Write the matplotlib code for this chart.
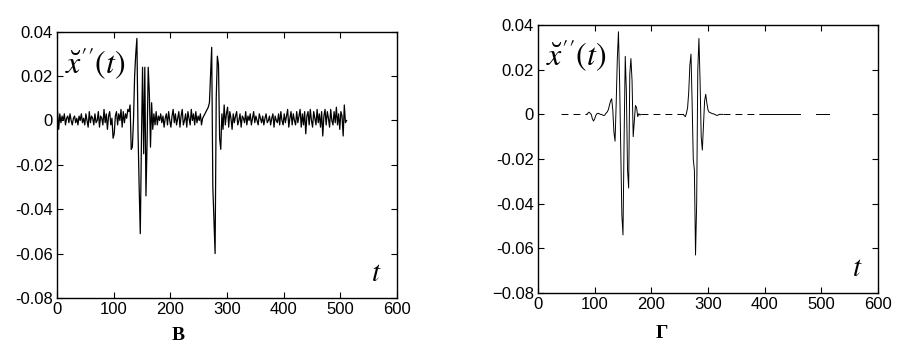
import numpy as np
import matplotlib
matplotlib.use("Agg")
import matplotlib.pyplot as plt

plt.rcParams['font.family'] = ['Liberation Sans', 'DejaVu Sans']
plt.rcParams['mathtext.fontset'] = 'stix'
plt.rcParams['lines.scale_dashes'] = False

# ---------------- data: panel B (noisy signal), t = 1, 3, ..., 511 ----------------
t_left = np.arange(1, 512, 2)
seg_a = [0.004, -0.004, 0.003, -0.001, 0.002, 0.000, 0.003, -0.002, 0.001, 0.002,
         -0.001, 0.003, 0.000, -0.002, 0.001, 0.002, -0.001, 0.001, -0.002, 0.002,
         0.000, 0.003, -0.001, 0.001, -0.002, 0.003, 0.000, -0.003, 0.004, -0.001,
         0.002, 0.001, -0.002, 0.003, -0.001, 0.000, 0.004, -0.003, 0.002, 0.001,
         -0.002, 0.005, -0.001, 0.003, -0.004, 0.002, 0.004, -0.002, 0.001, -0.008,
         -0.006, 0.002, 0.004, -0.002, 0.003, 0.000, 0.005, -0.003, 0.004, -0.001,
         0.003, 0.001, 0.005, 0.004]
burst_1 = [0.007, -0.013, -0.012, 0.000, 0.020, 0.030, 0.037, -0.005, -0.030, -0.051,
           -0.010, 0.024, -0.015, 0.024, -0.034, -0.010, 0.024, 0.012, -0.012, 0.008,
           -0.004, 0.003, -0.002, 0.004]
seg_b = [-0.002, 0.002, 0.000, 0.003, -0.001, 0.002, -0.003, 0.001, 0.003, -0.002,
         0.004, 0.000, -0.003, 0.002, 0.005, -0.001, 0.003, -0.002, 0.001, 0.004,
         -0.003, 0.002, 0.005, -0.002, 0.000, 0.003, -0.003, 0.004, 0.001, -0.002,
         0.005, 0.000, 0.003, -0.002, 0.004, -0.001, 0.002, 0.000, 0.003, -0.002,
         0.001, 0.002, 0.003, 0.004, 0.005, 0.006]
burst_2 = [0.008, 0.020, 0.033, -0.030, -0.045, -0.060, 0.010, 0.029, 0.025, -0.008,
           -0.013, 0.003, -0.004, 0.007, -0.002, 0.003]
seg_c = [0.006, -0.003, 0.004, 0.001, -0.004, 0.003, -0.001, 0.002, 0.004, -0.002,
         0.000, 0.003, -0.003, 0.002, 0.001, -0.001, 0.004, -0.002, 0.002, 0.000,
         0.003, -0.002, 0.001, 0.004, -0.001, 0.002, 0.000, -0.002, 0.003, 0.001,
         -0.001, 0.002, -0.002, 0.001, 0.003, -0.001, 0.000, 0.002, -0.002, 0.001,
         0.003, -0.003, 0.002, 0.000, -0.001, 0.003, -0.002, 0.004, 0.000, -0.002,
         0.003, -0.001, 0.002, 0.005, -0.003, 0.001, 0.004, -0.002, 0.003, 0.000,
         -0.002, 0.004, -0.001, 0.002, 0.005, -0.003, 0.003, -0.002, 0.004, -0.006,
         0.002, 0.004, -0.002, 0.005, 0.000, -0.003, 0.004, 0.001, -0.002, 0.005,
         -0.001, 0.003, -0.003, 0.004, -0.007, 0.002, 0.005, -0.002, 0.004, 0.001,
         -0.003, 0.005, 0.000, -0.002, 0.004, -0.001, 0.006, -0.002, 0.003, -0.004,
         0.004, 0.002, -0.007, 0.007, -0.001, 0.000]
x_left = np.array(seg_a + burst_1 + seg_b + burst_2 + seg_c)

# ---------------- data: panel Г (denoised signal) ----------------
t_r1 = [86, 88, 90, 92, 94, 96, 98, 100, 102, 104, 106, 108, 110, 112, 114, 116, 118,
        120, 122, 124, 126, 128, 130, 132, 134, 136, 138, 140, 142, 144, 146, 148, 150,
        152, 154, 156, 158, 160, 162, 164, 166, 168, 170, 172, 174, 176, 178, 180, 182]
x_r1 = [0.0, 0.0005, 0.001, 0.0005, 0.0, -0.002, -0.003, -0.002, -0.0005, 0.0003,
        0.0005, 0.0003, 0.0, 0.0, -0.0003, -0.0005, -0.0003, 0.0005, 0.001, 0.002,
        0.004, 0.006, 0.007, 0.002, -0.008, -0.012, 0.005, 0.025, 0.037, 0.015,
        -0.015, -0.045, -0.054, -0.010, 0.026, 0.010, -0.025, -0.033, 0.018, 0.025,
        0.015, -0.010, -0.003, 0.004, 0.003, -0.001, 0.0003, -0.0003, 0.0]
t_r2 = [256, 258, 260, 262, 264, 266, 268, 270, 272, 274, 276, 278, 280, 282, 284, 286,
        288, 290, 292, 294, 296, 298, 300, 302, 304, 306, 308, 310, 312, 314, 316, 318,
        320, 322, 324, 326]
x_r2 = [0.0, -0.0005, -0.001, 0.0005, 0.003, 0.010, 0.022, 0.027, 0.005, -0.020,
        -0.025, -0.063, -0.040, 0.020, 0.034, 0.015, -0.010, -0.016, -0.005, 0.006,
        0.009, 0.005, 0.002, 0.001, 0.0008, 0.0005, 0.0003, 0.0002, 0.0, -0.0003,
        -0.0005, -0.0003, 0.0, 0.0, 0.0, 0.0]
# zero baseline pieces (start, end, dashed?)
base_start = [40, 182, 326, 391, 491]
base_end = [86, 256, 391, 462, 514]
base_dashed = [True, True, True, False, False]

xticks = [0, 100, 200, 300, 400, 500, 600]
yticks = [-0.08, -0.06, -0.04, -0.02, 0, 0.02, 0.04]
ylabels_left = ['-0.08', '-0.06', '-0.04', '-0.02', '0', '0.02', '0.04']
ylabels_right = ['\u22120.08', '-0.06', '-0.04', '-0.02', '0', '0.02', '0.04']

fig = plt.figure(figsize=(9.19, 3.53), dpi=100)
axL = fig.add_axes([0.062, 0.156, 0.370, 0.754])
axR = fig.add_axes([0.5854, 0.170, 0.370, 0.759])

for ax, ylab in ((axL, ylabels_left), (axR, ylabels_right)):
    ax.set_xlim(0, 600)
    ax.set_ylim(-0.08, 0.04)
    ax.set_xticks(xticks)
    ax.set_xticklabels([str(v) for v in xticks])
    ax.set_yticks(yticks)
    ax.set_yticklabels(ylab)
    ax.tick_params(direction='in', top=True, right=True, length=4, width=0.8,
                   labelsize=12, pad=3, colors='black')
    for s in ax.spines.values():
        s.set_linewidth(1.0)
        s.set_color('black')

axL.plot(t_left, x_left, color='black', lw=0.9)

axR.plot(t_r1, x_r1, color='black', lw=0.7)
axR.plot(t_r2, x_r2, color='black', lw=0.7)
for s0, s1, d in zip(base_start, base_end, base_dashed):
    if d:
        axR.plot([s0, s1], [0, 0], color='black', lw=0.7, dashes=(5.0, 3.6))
    else:
        axR.plot([s0, s1], [0, 0], color='black', lw=0.7)

lab = r'$\breve{x}^{\prime\prime}(t)$'
axL.text(0.025, 0.88, lab, transform=axL.transAxes, fontsize=23, va='center', ha='left')
axR.text(0.025, 0.885, lab, transform=axR.transAxes, fontsize=23, va='center', ha='left')
axL.text(0.94, 0.094, r'$t$', transform=axL.transAxes, fontsize=21, va='center', ha='center')
axR.text(0.94, 0.093, r'$t$', transform=axR.transAxes, fontsize=21, va='center', ha='center')

fig.text(178 / 919, 1 - 336 / 353, '\u0412', fontsize=14, fontweight='bold',
         family=['Liberation Serif', 'DejaVu Serif'], ha='center', va='center')
fig.text(662 / 919, 1 - 334 / 353, '\u0413', fontsize=14, fontweight='bold',
         family=['Liberation Serif', 'DejaVu Serif'], ha='center', va='center')

fig.savefig('out.png', dpi=100, facecolor='white')
